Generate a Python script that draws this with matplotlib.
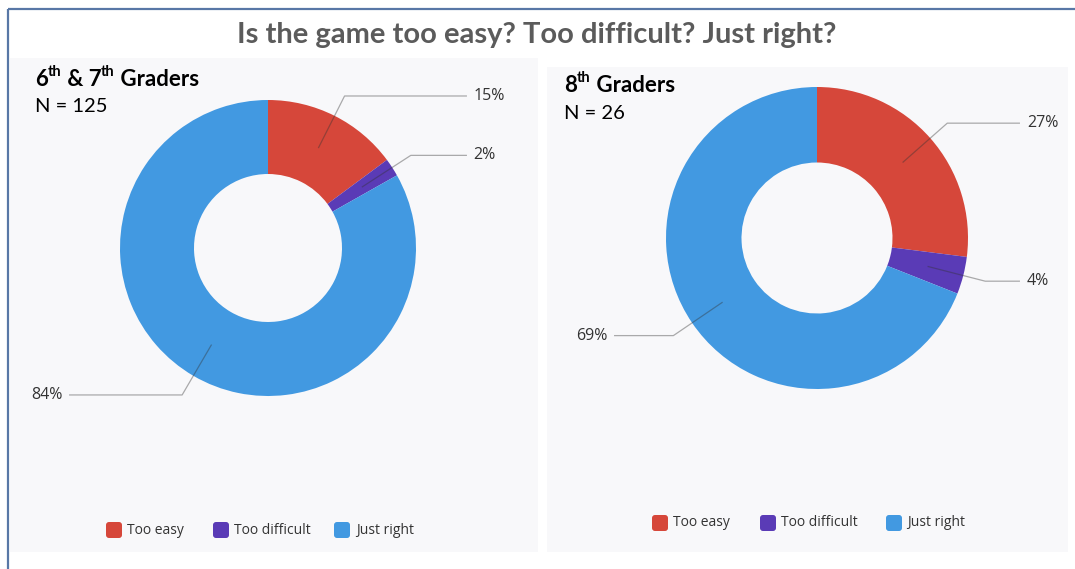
import numpy as np
import matplotlib
matplotlib.use("Agg")
import matplotlib.pyplot as plt
from matplotlib.patches import Rectangle, FancyBboxPatch

# Survey answers
categories = ["Too easy", "Too difficult", "Just right"]
grades_67 = [15, 2, 84]
grades_8 = [27, 4, 69]
labels_67 = ["15%", "2%", "84%"]
labels_8 = ["27%", "4%", "69%"]
colors = ["#d6473a", "#5a3bb6", "#4299e1"]

W, H = 1075, 569
fig = plt.figure(figsize=(W / 100, H / 100), dpi=100)
fig.patch.set_facecolor("white")

# Pixel-space overlay for panels, frame and text
ov = fig.add_axes([0, 0, 1, 1])
ov.set_xlim(0, W)
ov.set_ylim(H, 0)
ov.axis("off")

panel_bg = "#f8f8fa"
ov.add_patch(Rectangle((10, 58), 528, 494, facecolor=panel_bg, edgecolor="none"))
ov.add_patch(Rectangle((547, 67), 521, 485, facecolor=panel_bg, edgecolor="none"))

frame = "#5877a6"
ov.plot([8, 8], [9, H], color=frame, lw=1.6, solid_capstyle="butt")
ov.plot([8, W], [9, 9], color=frame, lw=1.6, solid_capstyle="butt")

ov.text(537, 35, "Is the game too easy? Too difficult? Just right?",
        ha="center", va="center", fontsize=21, fontweight="bold",
        family="Lato", color="#5b5b5b")

renderer = fig.canvas.get_renderer()


def rich_heading(x, y, pieces, size=16):
    """Draw bold text pieces left to right; raised pieces become superscripts."""
    for txt, sup in pieces:
        fs = size * 0.66 if sup else size
        yy = y - size * 0.6 if sup else y
        t = ov.text(x, yy, txt, ha="left", va="baseline", fontsize=fs,
                    fontweight="bold", family="Lato", color="black")
        x += t.get_window_extent(renderer).width


rich_heading(35, 86, [("6", False), ("th", True), (" & 7", False),
                      ("th", True), (" Graders", False)])
ov.text(35, 112, "N = 125", ha="left", va="baseline", fontsize=14.5,
        family="Lato", color="black")
rich_heading(564, 92, [("8", False), ("th", True), (" Graders", False)])
ov.text(564, 119, "N = 26", ha="left", va="baseline", fontsize=14.5,
        family="Lato", color="black")


def donut(cx, cy, R, values, labels):
    ax = fig.add_axes([(cx - R) / W, 1 - (cy + R) / H, 2 * R / W, 2 * R / H])
    ax.axis("off")
    ax.patch.set_alpha(0)
    wedges, _ = ax.pie(values, colors=colors, startangle=90, counterclock=False,
                       radius=1, wedgeprops=dict(width=0.5, edgecolor="none"))
    ax.set_xlim(-1, 1)
    ax.set_ylim(-1, 1)
    for w in wedges:
        w.set_clip_on(False)
    total = float(sum(values))
    start = 0.0
    for v, lab in zip(values, labels):
        mid = np.deg2rad(90 - 360 * (start + v / 2) / total)
        start += v
        ux, uy = np.cos(mid), np.sin(mid)
        x0, y0 = 0.76 * ux, 0.76 * uy
        x1, y1 = 1.15 * ux, 1.15 * uy
        side = 1 if ux >= 0 else -1
        x2 = 1.34 * side
        ax.plot([x0, x1, x2], [y0, y1, y1], color="#333333", alpha=0.4,
                lw=0.9, clip_on=False)
        ax.text(x2 + 0.05 * side, y1, lab, ha="left" if side > 0 else "right",
                va="center", fontsize=11.5, family="Open Sans", color="#333333",
                clip_on=False)
    return ax


donut(268, 248, 148, grades_67, labels_67)
donut(817, 238, 151, grades_8, labels_8)


def legend(x_positions, y):
    for (sx, tx), name, c in zip(x_positions, categories, colors):
        ov.add_patch(FancyBboxPatch((sx + 2, y - 6), 12, 12,
                                    boxstyle="round,pad=2,rounding_size=3",
                                    facecolor=c, edgecolor="none"))
        ov.text(tx, y, name, ha="left", va="center", fontsize=10,
                family="Open Sans", color="#333333")


legend([(106, 127), (213, 234), (334, 356)], 530)
legend([(652, 673), (760, 781), (886, 907)], 523)

fig.savefig("out.png", dpi=100, facecolor="white")
